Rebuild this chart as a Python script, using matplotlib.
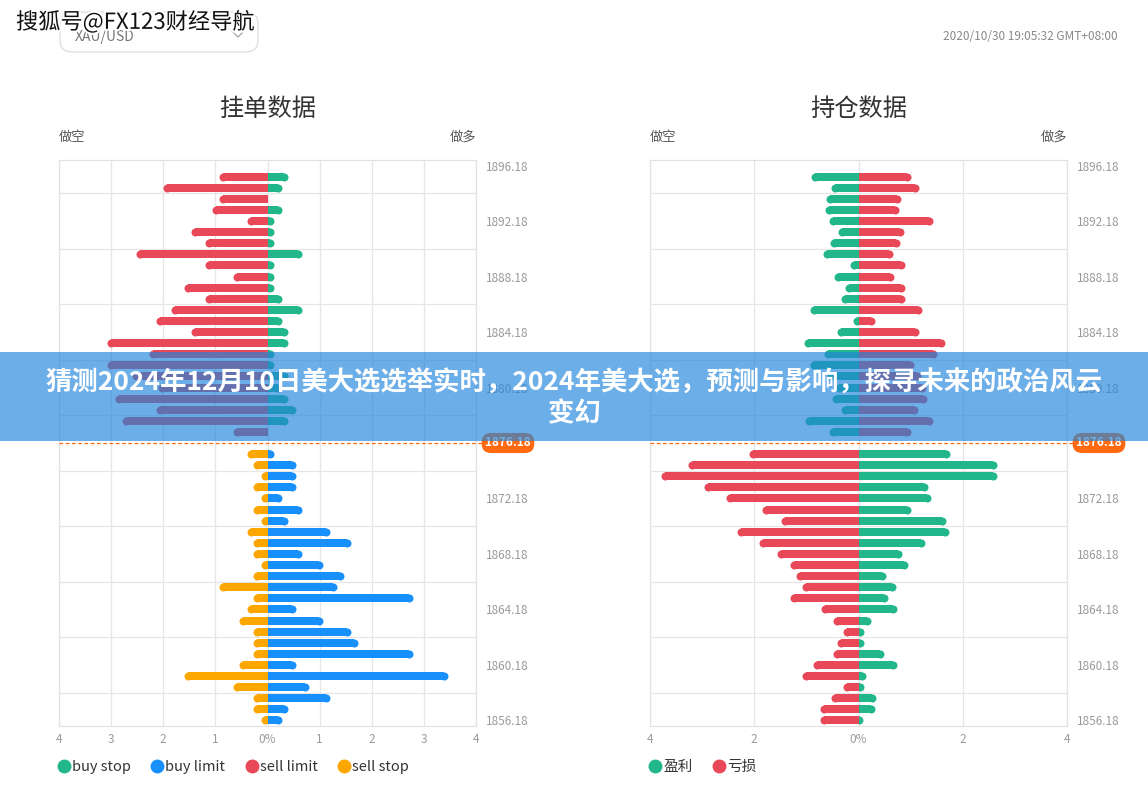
import matplotlib
matplotlib.use("Agg")
import matplotlib.pyplot as plt
import matplotlib.patheffects as pe
from matplotlib.lines import Line2D
from matplotlib.patches import Rectangle, FancyBboxPatch
from matplotlib.transforms import blended_transform_factory
import numpy as np

plt.rcParams['font.family'] = ['Noto Sans CJK SC', 'DejaVu Sans']

# price levels (category axis, top -> bottom)
price_top = 1896.18
price_step = 0.8
n_rows = 51
current_price = '1876.18'
tick_labels = ['1896.18', '1892.18', '1888.18', '1884.18', '1880.18',
               '1872.18', '1868.18', '1864.18', '1860.18', '1856.18']

# ---- 挂单数据 (pending orders), % ----
# rows above current price (1896.18 ... 1876.98)
sell_limit = [0, 0.93, 2.00, 0.93, 1.07, 0.40, 1.46, 1.19, 2.53, 1.19, 0.66, 1.60, 1.19,
              1.86, 2.13, 1.46, 3.07, 2.27, 3.07, 2.60, 2.10, 2.93, 2.13, 2.80, 0.66]
buy_stop = [0, 0.40, 0.27, 0, 0.27, 0.13, 0.13, 0.13, 0.67, 0.13, 0.13, 0.13, 0.27,
            0.67, 0.27, 0.40, 0.40, 0.13, 0.13, 0.40, 0.27, 0.40, 0.54, 0.40, 0]
# rows below current price (1875.38 ... 1856.18)
sell_stop = [0.40, 0.27, 0.13, 0.27, 0.13, 0.27, 0.13, 0.40, 0.27, 0.27, 0.13, 0.27, 0.93,
             0.27, 0.40, 0.54, 0.27, 0.27, 0.27, 0.54, 1.61, 0.66, 0.27, 0.27, 0.13]
buy_limit = [0.13, 0.54, 0.54, 0.54, 0.27, 0.67, 0.40, 1.20, 1.61, 0.67, 1.07, 1.47, 1.33,
             2.80, 0.54, 1.07, 1.61, 1.74, 2.80, 0.54, 3.47, 0.80, 1.20, 0.40, 0.27]

# ---- 持仓数据 (positions), % ----
profit_up = [0, 0.91, 0.52, 0.63, 0.64, 0.56, 0.40, 0.55, 0.68, 0.17, 0.47, 0.26, 0.34,
             0.93, 0.11, 0.42, 1.05, 0.66, 0.93, 0.60, 0.45, 0.50, 0.34, 1.02, 0.57]
loss_up = [0, 1.01, 1.17, 0.82, 0.77, 1.42, 0.87, 0.79, 0.67, 0.89, 0.69, 0.89, 0.89,
           1.21, 0.31, 1.16, 1.66, 1.51, 1.06, 1.20, 1.30, 1.32, 1.14, 1.42, 1.01]
loss_down = [2.10, 3.28, 3.79, 2.96, 2.55, 1.86, 1.48, 2.34, 1.91, 1.56, 1.31, 1.19, 1.09,
             1.32, 0.72, 0.49, 0.30, 0.42, 0.49, 0.87, 1.09, 0.30, 0.52, 0.74, 0.74]
profit_down = [1.76, 2.66, 2.66, 1.34, 1.40, 1.00, 1.67, 1.74, 1.28, 0.84, 0.95, 0.53, 0.71,
               0.57, 0.74, 0.24, 0.11, 0.10, 0.49, 0.73, 0.15, 0.10, 0.34, 0.31, 0.05]

GREEN = '#22b68b'
RED = '#e84858'
BLUE = '#1890fb'
ORANGE = '#fca600'
BADGE = '#ff6a10'

categories = ['%.2f' % (price_top - price_step * i) for i in range(n_rows)]
cur_row = categories.index(current_price)
rows_up = np.arange(len(sell_limit))
rows_down = np.arange(cur_row + 1, cur_row + 1 + len(sell_stop))

W, H = 1148, 794
fig = plt.figure(figsize=(W / 100, H / 100), dpi=100)
fig.patch.set_facecolor('white')

BAR_H = 0.72
CAP_R = 4 / (417 / 8)          # radius of the rounded end in data units
CAP_S = (8 * 0.72) ** 2        # marker area in pt^2


def side_bars(ax, rows, vals, side, color):
    vals = np.asarray(vals, dtype=float)
    body = np.clip(vals - CAP_R, 0, None)
    clip = Rectangle((0 if side > 0 else -10, -5), 10, 70, transform=ax.transData)
    bars = ax.barh(rows, side * body, height=BAR_H, color=color, zorder=3, linewidth=0)
    for b in bars:
        b.set_clip_path(clip)
    m = vals > 0
    sc = ax.scatter(side * body[m], np.asarray(rows)[m], s=CAP_S, color=color,
                    marker='o', linewidths=0, zorder=3)
    sc.set_clip_path(clip)


def setup(ax, xticks, xlabels, title):
    ax.set_xlim(-4, 4)
    ax.set_ylim(n_rows - 0.5, -0.5)
    ax.set_xticks(xticks)
    ax.set_xticklabels(xlabels)
    ax.yaxis.tick_right()
    ax.set_yticks([categories.index(t) for t in tick_labels])
    ax.set_yticklabels(tick_labels)
    ax.set_yticks(np.arange(2.5, n_rows - 1, 5), minor=True)
    ax.tick_params(axis='both', which='both', length=0, colors='#9a9a9a', labelsize=8.5)
    ax.tick_params(axis='x', pad=5)
    ax.tick_params(axis='y', pad=7)
    ax.grid(True, axis='x', color='#e6e6e6', lw=0.9)
    ax.grid(True, axis='y', which='minor', color='#e6e6e6', lw=0.9)
    ax.set_axisbelow(True)
    for s in ax.spines.values():
        s.set_color('#e2e2e2')
        s.set_linewidth(0.9)
    # current price line + badge
    ax.plot([-4, 4.12], [cur_row, cur_row], color=BADGE, lw=0.9, ls=(0, (3, 2)),
            clip_on=False, zorder=4)
    tr = blended_transform_factory(ax.transAxes, ax.transData)
    ax.text(1.022, cur_row, current_price, transform=tr, ha='left', va='center',
            color='white', fontsize=8.5, fontweight='bold', zorder=5,
            bbox=dict(boxstyle='round,pad=0.3,rounding_size=0.8', fc=BADGE, ec='none'))
    ax.text(0.5, 1.09, title, transform=ax.transAxes, ha='center', va='center',
            fontsize=17.5, color='#333333')
    ax.text(0.0, 1.04, '做空', transform=ax.transAxes, ha='left', va='center',
            fontsize=9.5, color='#555555')
    ax.text(1.0, 1.04, '做多', transform=ax.transAxes, ha='right', va='center',
            fontsize=9.5, color='#555555')


ax_l = fig.add_axes([59 / W, 1 - 726 / H, 417 / W, 566 / H])
side_bars(ax_l, rows_up, sell_limit, -1, RED)
side_bars(ax_l, rows_up, buy_stop, 1, GREEN)
side_bars(ax_l, rows_down, sell_stop, -1, ORANGE)
side_bars(ax_l, rows_down, buy_limit, 1, BLUE)
setup(ax_l, range(-4, 5), ['4', '3', '2', '1', '0%', '1', '2', '3', '4'], '挂单数据')

ax_r = fig.add_axes([650 / W, 1 - 726 / H, 417 / W, 566 / H])
side_bars(ax_r, rows_up, profit_up, -1, GREEN)
side_bars(ax_r, rows_up, loss_up, 1, RED)
side_bars(ax_r, rows_down, loss_down, -1, RED)
side_bars(ax_r, rows_down, profit_down, 1, GREEN)
setup(ax_r, [-4, -2, 0, 2, 4], ['4', '2', '0%', '2', '4'], '持仓数据')


# legends
def legend(ax, names, colors, spacing):
    hs = [Line2D([], [], marker='o', ls='', color=c, markersize=9) for c in colors]
    ax.legend(hs, names, loc='center left', bbox_to_anchor=(-0.005, -0.0725), ncol=len(names),
              frameon=False, handletextpad=0.05, columnspacing=spacing, handlelength=1.0,
              borderpad=0, borderaxespad=0, prop={'size': 10.5}, labelcolor='#333333')


legend(ax_l, ['buy stop', 'buy limit', 'sell limit', 'sell stop'],
       [GREEN, BLUE, RED, ORANGE], 1.3)
legend(ax_r, ['盈利', '亏损'], [GREEN, RED], 1.3)

# overlay: header, dropdown, banner, watermark
ov = fig.add_axes([0, 0, 1, 1], zorder=5)
ov.set_xlim(0, W)
ov.set_ylim(H, 0)
ov.axis('off')
ov.patch.set_alpha(0)

ov.add_patch(FancyBboxPatch((60, 12), 198, 40, boxstyle='round,pad=0,rounding_size=12',
                            fc='white', ec='#dcdcdc', lw=0.9))
ov.text(75, 37, 'XAU/USD', ha='left', va='center', fontsize=10, color='#777777')
ov.plot([232, 238, 244], [31, 37, 31], color='#aaaaaa', lw=1)
ov.text(1118, 36, '2020/10/30 19:05:32 GMT+08:00', ha='right', va='center',
        fontsize=8.5, color='#888888')

ov.add_patch(Rectangle((0, 352), W, 89, fc=(32 / 255, 132 / 255, 220 / 255), alpha=0.66,
                       ec='none'))
ov.text(W / 2, 383, '猜测2024年12月10日美大选选举实时，2024年美大选，预测与影响，探寻未来的政治风云',
        ha='center', va='center', fontsize=19, fontweight='bold', color='white')
ov.text(W / 2, 414, '变幻', ha='center', va='center', fontsize=19, fontweight='bold',
        color='white')

ov.text(16, 22, '搜狐号@FX123财经导航', ha='left', va='center', fontsize=16,
        color='#111111', fontweight='medium',
        path_effects=[pe.withStroke(linewidth=3, foreground='white')])

fig.savefig('out.png', dpi=100)
